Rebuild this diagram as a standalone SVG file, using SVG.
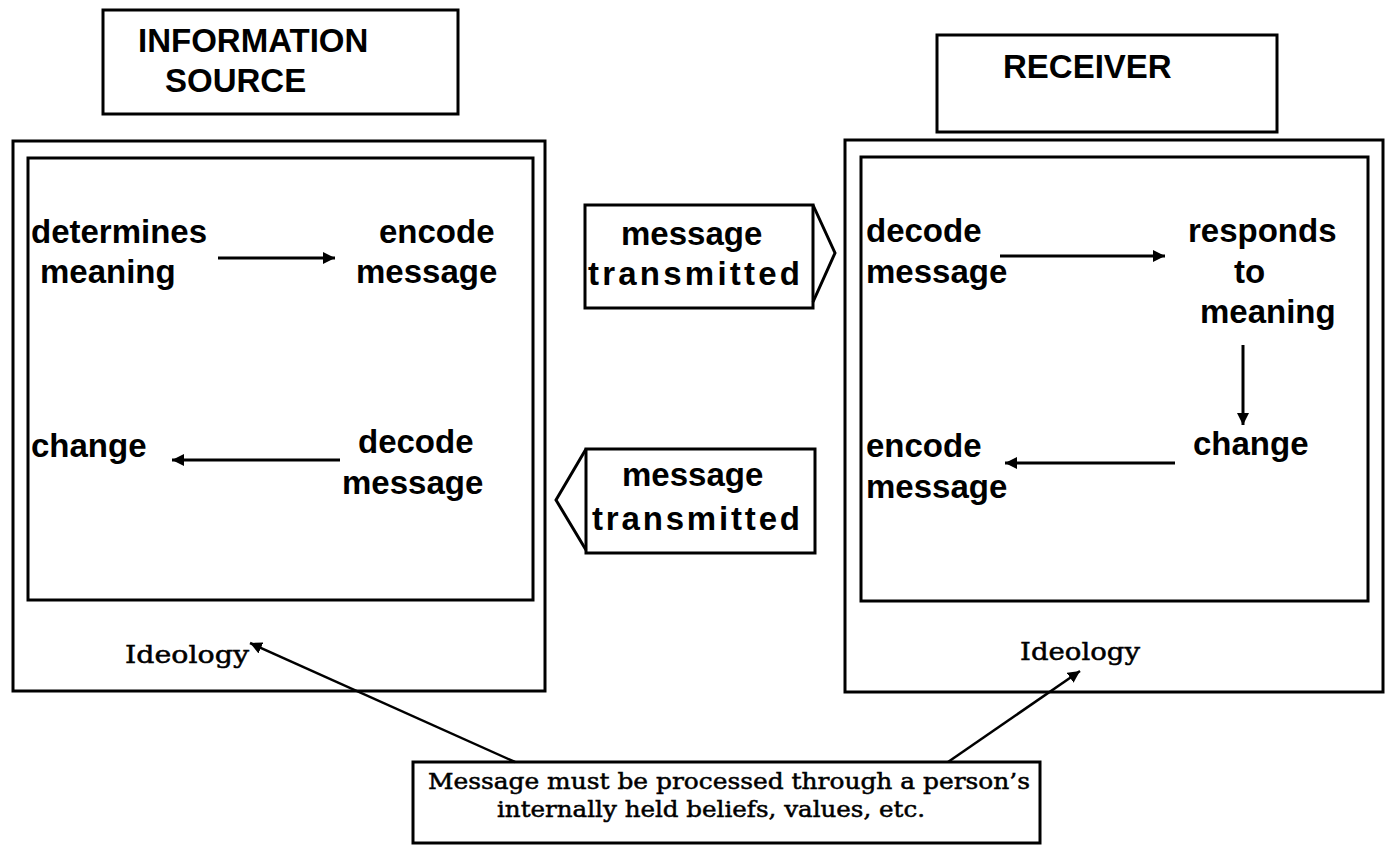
<svg xmlns="http://www.w3.org/2000/svg" width="1395" height="846" viewBox="0 0 1395 846">
<style>
.box{fill:none;stroke:#000;stroke-width:3}
.sans{font-family:"Liberation Sans",Arial,sans-serif;font-weight:bold;font-size:33px;fill:#000}
.serif{font-family:"DejaVu Serif","Liberation Serif",serif;font-size:25px;fill:#000;stroke:#000;stroke-width:0.5}
.note{font-family:"DejaVu Serif","Liberation Serif",serif;font-size:22px;fill:#000;stroke:#000;stroke-width:0.5}
.conn{fill:none;stroke:#000;stroke-width:3}
.thin{fill:none;stroke:#000;stroke-width:2.5}
</style>
<defs>
<marker id="ah" markerUnits="userSpaceOnUse" markerWidth="14" markerHeight="12" refX="12" refY="6" orient="auto">
<path d="M0,0 L12,6 L0,12 z" fill="#000"/>
</marker>
</defs>
<rect width="1395" height="846" fill="#fff"/>

<g id="information-source">
<rect class="box" x="103" y="10" width="355" height="104"/>
<text class="sans" x="138" y="52">INFORMATION</text>
<text class="sans" x="165" y="92">SOURCE</text>
</g>

<g id="receiver">
<rect class="box" x="937" y="35" width="340" height="97"/>
<text class="sans" x="1003" y="78">RECEIVER</text>
</g>

<g id="source-frame">
<rect class="box" x="13" y="141" width="532" height="550"/>
<rect class="box" x="28" y="158" width="505" height="442"/>
<text class="serif" x="125" y="663" textLength="124" lengthAdjust="spacingAndGlyphs">Ideology</text>
</g>

<g id="source-determines">
<text class="sans" x="31" y="243">determines</text>
<text class="sans" x="40" y="283">meaning</text>
</g>
<g id="source-encode">
<text class="sans" x="379" y="243">encode</text>
<text class="sans" x="356" y="283">message</text>
</g>
<g id="source-change">
<text class="sans" x="31" y="457">change</text>
</g>
<g id="source-decode">
<text class="sans" x="358" y="453">decode</text>
<text class="sans" x="342" y="494">message</text>
</g>

<g id="receiver-frame">
<rect class="box" x="845" y="140" width="538" height="552"/>
<rect class="box" x="861" y="157" width="507" height="444"/>
<text class="serif" x="1020" y="660" textLength="120" lengthAdjust="spacingAndGlyphs">Ideology</text>
</g>

<g id="receiver-decode">
<text class="sans" x="866" y="242">decode</text>
<text class="sans" x="866" y="283">message</text>
</g>
<g id="receiver-responds">
<text class="sans" x="1188" y="242">responds</text>
<text class="sans" x="1234" y="283">to</text>
<text class="sans" x="1200" y="323">meaning</text>
</g>
<g id="receiver-change">
<text class="sans" x="1193" y="455">change</text>
</g>
<g id="receiver-encode">
<text class="sans" x="866" y="457">encode</text>
<text class="sans" x="866" y="498">message</text>
</g>

<g id="message-transmitted-1">
<path class="box" d="M585,205 H813 V308 H585 Z"/>
<path class="box" d="M813,205 L835,253 L813,302"/>
<text class="sans" x="621" y="245">message</text>
<text class="sans" x="588" y="285" textLength="212" lengthAdjust="spacing">transmitted</text>
</g>

<g id="message-transmitted-2">
<path class="box" d="M586,449 H815 V553 H586 Z"/>
<path class="box" d="M586,449 L556,500 L586,550"/>
<text class="sans" x="622" y="486">message</text>
<text class="sans" x="592" y="530" textLength="208" lengthAdjust="spacing">transmitted</text>
</g>

<g id="note">
<rect class="box" x="413" y="762" width="627" height="81"/>
<text class="note" x="428" y="789" textLength="602" lengthAdjust="spacingAndGlyphs">Message must be processed through a person’s</text>
<text class="note" x="497" y="817" textLength="428" lengthAdjust="spacingAndGlyphs">internally held beliefs, values, etc.</text>
</g>

<g id="connectors">
<line class="conn" x1="218" y1="258" x2="335" y2="258" marker-end="url(#ah)"/>
<line class="conn" x1="340" y1="460" x2="172" y2="460" marker-end="url(#ah)"/>
<line class="conn" x1="1000" y1="256" x2="1165" y2="256" marker-end="url(#ah)"/>
<line class="conn" x1="1243" y1="345" x2="1243" y2="425" marker-end="url(#ah)"/>
<line class="conn" x1="1175" y1="463" x2="1005" y2="463" marker-end="url(#ah)"/>
<line class="thin" x1="515" y1="762" x2="250" y2="643" marker-end="url(#ah)"/>
<line class="thin" x1="948" y1="762" x2="1080" y2="671" marker-end="url(#ah)"/>
</g>
</svg>
